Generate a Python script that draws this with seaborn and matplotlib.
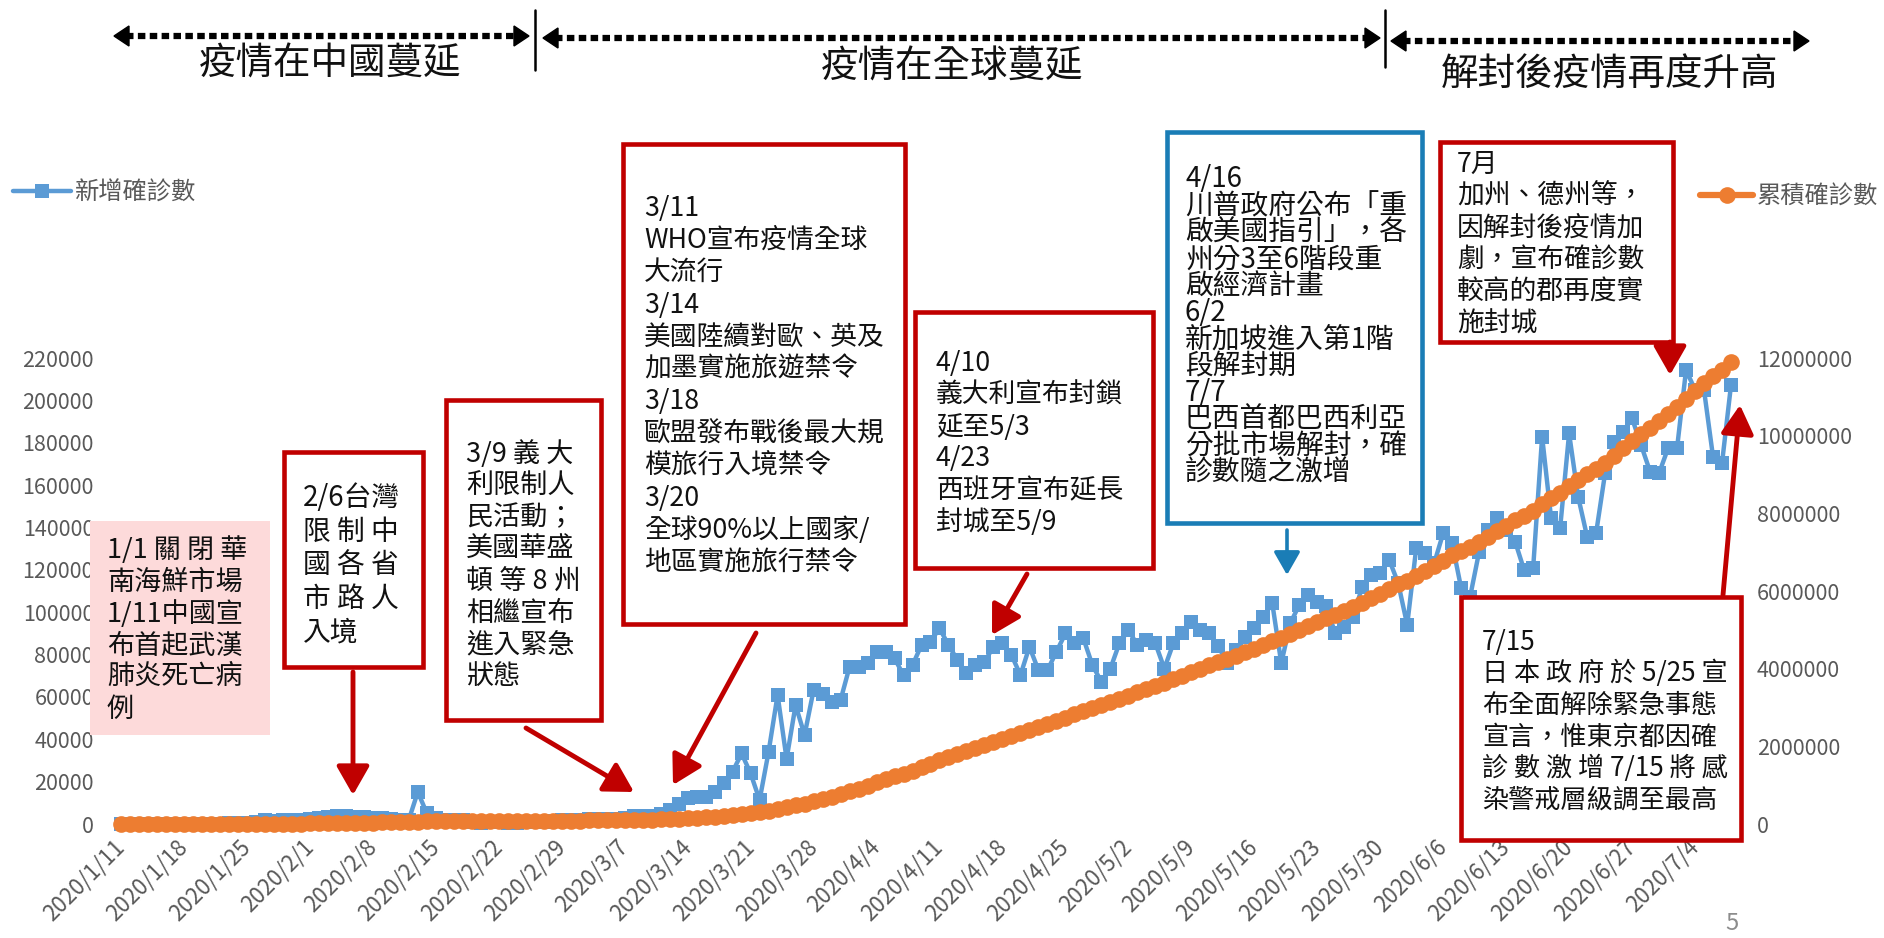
import matplotlib
matplotlib.use('Agg')
import matplotlib.pyplot as plt
import numpy as np
import pandas as pd
import seaborn as sns
from matplotlib.patches import Rectangle, Polygon, FancyArrowPatch

# Daily new confirmed cases worldwide (thousands), 2020/1/11 - 2020/7/8
new_cases_k = [
    0.0, 0.0, 0.0, 0.0, 0.0, 0.0, 0.02,
    0.06, 0.08, 0.09, 0.15, 0.13, 0.26, 0.46,
    0.69, 0.77, 1.77, 1.46, 1.74, 1.98, 2.10,
    2.59, 2.83, 3.24, 3.88, 3.69, 3.14, 3.39,
    2.65, 2.97, 2.47, 2.02, 2.00, 15.15, 5.09,
    2.64, 2.10, 2.05, 1.89, 0.80, 0.55, 1.00,
    1.05, 0.65, 0.50, 0.85, 0.93, 1.10, 1.35,
    1.80, 1.70, 1.90, 2.30, 2.30, 2.20, 2.40,
    3.00, 3.60, 3.90, 3.70, 4.60, 6.60, 9.50,
    12.1, 12.9, 12.9, 15.3, 19.2, 24.7, 33.3,
    23.9, 11.3, 34.1, 60.9, 30.7, 56.1, 42.0,
    63.2, 61.6, 57.7, 58.5, 74.2, 74.2, 75.8,
    81.3, 81.3, 78.2, 70.3, 75.0, 84.5, 86.1,
    92.4, 84.5, 77.4, 71.1, 75.0, 76.6, 83.7,
    85.3, 79.8, 70.3, 83.7, 72.6, 72.6, 81.3,
    90.0, 85.3, 87.6, 75.0, 67.1, 73.4, 85.3,
    91.6, 84.5, 86.8, 85.3, 73.4, 85.3, 90.0,
    95.5, 91.6, 90.0, 83.8, 75.9, 82.2, 88.5,
    92.4, 97.9, 104.2, 75.9, 94.8, 103.4, 108.2,
    105.0, 102.7, 90.0, 93.2, 97.9, 112.1, 117.6,
    118.4, 124.7, 113.7, 94.0, 130.2, 127.8, 123.1,
    137.3, 132.5, 111.3, 107.4, 128.6, 138.8, 144.3,
    138.8, 133.3, 119.9, 120.7, 182.9, 144.3, 139.6,
    184.4, 154.6, 135.7, 137.3, 165.6, 180.5, 185.2,
    191.5, 178.9, 166.4, 165.6, 177.4, 177.4, 214.3,
    205.0, 204.9, 173.4, 170.3, 207.2,
]

# Cumulative confirmed cases worldwide (thousands)
total_cases_k = [
    0.04, 0.04, 0.04, 0.04, 0.04, 0.04, 0.06,
    0.12, 0.20, 0.29, 0.44, 0.57, 0.83, 1.29,
    1.98, 2.75, 4.52, 5.98, 7.72, 9.70, 11.8,
    14.4, 17.2, 20.4, 24.3, 28.0, 31.1, 34.5,
    37.2, 40.2, 42.6, 44.6, 46.6, 61.8, 66.9,
    69.5, 71.6, 73.7, 75.6, 76.4, 76.9, 77.9,
    79.0, 79.6, 80.1, 81.0, 81.9, 83.0, 84.4,
    86.2, 87.9, 89.8, 92.1, 94.4, 96.6, 99.0,
    102.0, 105.6, 109.5, 113.2, 117.8, 124.4, 133.9,
    146.0, 158.9, 171.8, 187.1, 206.3, 231.0, 264.3,
    288.2, 299.5, 333.6, 394.5, 425.2, 481.3, 523.3,
    586.5, 648.1, 705.8, 764.3, 838.5, 912.7, 988.5,
    1069.8, 1151.1, 1229.3, 1299.6, 1374.6, 1459.1, 1545.2,
    1637.6, 1722.1, 1799.5, 1870.6, 1945.6, 2022.2, 2105.9,
    2191.2, 2271.0, 2341.3, 2425.0, 2497.6, 2570.2, 2651.5,
    2741.5, 2826.8, 2914.4, 2989.4, 3056.5, 3129.9, 3215.2,
    3306.8, 3391.3, 3478.1, 3563.4, 3636.8, 3722.1, 3812.1,
    3907.6, 3999.2, 4089.2, 4173.0, 4248.9, 4331.1, 4419.6,
    4512.0, 4609.9, 4714.1, 4790.0, 4884.8, 4988.2, 5096.4,
    5201.4, 5304.1, 5394.1, 5487.3, 5585.2, 5697.3, 5814.9,
    5933.3, 6058.0, 6171.7, 6265.7, 6395.9, 6523.7, 6646.8,
    6784.1, 6916.6, 7027.9, 7135.3, 7263.9, 7402.7, 7547.0,
    7685.8, 7819.1, 7939.0, 8059.7, 8242.6, 8386.9, 8526.5,
    8710.9, 8865.5, 9001.2, 9138.5, 9304.1, 9484.6, 9669.8,
    9861.3, 10040.2, 10206.6, 10372.2, 10549.6, 10727.0, 10941.3,
    11146.3, 11351.2, 11524.6, 11694.9, 11902.1,
]

start_date = '2020-01-11'
x_tick_labels = [
    '2020/1/11', '2020/1/18', '2020/1/25', '2020/2/1', '2020/2/8', '2020/2/15',
    '2020/2/22', '2020/2/29', '2020/3/7', '2020/3/14', '2020/3/21', '2020/3/28',
    '2020/4/4', '2020/4/11', '2020/4/18', '2020/4/25', '2020/5/2', '2020/5/9',
    '2020/5/16', '2020/5/23', '2020/5/30', '2020/6/6', '2020/6/13', '2020/6/20',
    '2020/6/27', '2020/7/4',
]
left_ticks = [0, 20000, 40000, 60000, 80000, 100000, 120000, 140000,
              160000, 180000, 200000, 220000]
right_ticks = [0, 2000000, 4000000, 6000000, 8000000, 10000000, 12000000]
series_names = ['新增確診數', '累積確診數']
phase_labels = ['疫情在中國蔓延', '疫情在全球蔓延', '解封後疫情再度升高']

note_china = ['1/1 關 閉 華', '南海鮮市場', '1/11中國宣', '布首起武漢', '肺炎死亡病', '例']
note_taiwan = ['2/6台灣', '限 制 中', '國 各 省', '市 路 人', '入境']
note_italy_us = ['3/9 義 大', '利限制人', '民活動；', '美國華盛', '頓 等 8 州',
                 '相繼宣布', '進入緊急', '狀態']
note_march = ['3/11', 'WHO宣布疫情全球', '大流行', '3/14', '美國陸續對歐、英及',
              '加墨實施旅遊禁令', '3/18', '歐盟發布戰後最大規', '模旅行入境禁令',
              '3/20', '全球90%以上國家/', '地區實施旅行禁令']
note_april = ['4/10', '義大利宣布封鎖', '延至5/3', '4/23', '西班牙宣布延長', '封城至5/9']
note_reopen = ['4/16', '川普政府公布「重', '啟美國指引」，各', '州分3至6階段重',
               '啟經濟計畫', '6/2', '新加坡進入第1階', '段解封期', '7/7',
               '巴西首都巴西利亞', '分批市場解封，確', '診數隨之激增']
note_july = ['7月', '加州、德州等，', '因解封後疫情加', '劇，宣布確診數',
             '較高的郡再度實', '施封城']
note_japan = ['7/15', '日 本 政 府 於 5/25 宣', '布全面解除緊急事態', '宣言，惟東京都因確',
              '診 數 激 增 7/15 將 感', '染警戒層級調至最高']

BLUE = '#5B9BD5'
ORANGE = '#ED7D31'
RED = '#C00000'
NOTE_BLUE = '#1A7DB6'
GREY = '#595959'

sns.set_theme(style='white')
plt.rcParams['font.family'] = ['Noto Sans CJK TC', 'DejaVu Sans']
plt.rcParams['axes.unicode_minus'] = False

dates = pd.date_range(start_date, periods=len(new_cases_k), freq='D')
df = pd.DataFrame({
    'date': dates,
    'new': np.array(new_cases_k) * 1000,
    'total': np.array(total_cases_k) * 1000,
})

W, H = 1884, 938
fig = plt.figure(figsize=(W / 100, H / 100), dpi=100)
fig.patch.set_facecolor('white')

ax = fig.add_axes([112 / W, 1 - 824 / H, (1740 - 112) / W, (824 - 358) / H])
ax2 = ax.twinx()

sns.lineplot(data=df, x='date', y='new', ax=ax, color=BLUE, linewidth=3.2,
             marker='s', markersize=9.5, markeredgewidth=0, clip_on=False, legend=False)
sns.lineplot(data=df, x='date', y='total', ax=ax2, color=ORANGE, linewidth=4.5,
             marker='o', markersize=12, markeredgewidth=0, clip_on=False, legend=False)

ax.set_xlim(dates[0] - pd.Timedelta(days=1), dates[0] + pd.Timedelta(days=180))
ax.set_ylim(0, 220000)
ax2.set_ylim(0, 12000000)

for a in (ax, ax2):
    for s in a.spines.values():
        s.set_visible(False)
    a.grid(False)
    a.set_xlabel('')
    a.set_ylabel('')

ax.set_xticks(dates[::7])
ax.set_xticklabels(x_tick_labels, rotation=45, ha='right', va='center',
                   rotation_mode='anchor')
ax.set_yticks(left_ticks)
ax.set_yticklabels([str(v) for v in left_ticks])
ax2.set_yticks(right_ticks)
ax2.set_yticklabels([str(v) for v in right_ticks])

ax.tick_params(axis='x', length=0, pad=14, labelsize=16, colors=GREY)
ax.tick_params(axis='y', length=0, pad=13, labelsize=15.5, colors=GREY)
ax2.tick_params(axis='y', length=0, pad=12, labelsize=15.5, colors=GREY)

# legends
fig.legend([ax.lines[0]], [series_names[0]], loc='center left',
           bbox_to_anchor=(13 / W, 1 - 193 / H), frameon=False, fontsize=17.5,
           labelcolor=GREY, handlelength=2.4, handletextpad=0.15,
           borderpad=0, borderaxespad=0)
fig.legend([ax2.lines[0]], [series_names[1]], loc='center left',
           bbox_to_anchor=(1700 / W, 1 - 197 / H), frameon=False, fontsize=17.5,
           labelcolor=GREY, handlelength=2.2, handletextpad=0.15,
           borderpad=0, borderaxespad=0)

# overlay in pixel coordinates for the slide annotations
ov = fig.add_axes([0, 0, 1, 1], zorder=10)
ov.set_xlim(0, W)
ov.set_ylim(H, 0)
ov.axis('off')


def dashed_arrow(x0, x1, y):
    ov.plot([x0 + 12, x1 - 12], [y, y], color='black', lw=4.5,
            linestyle=(0, (1.2, 0.7)), dash_capstyle='butt')
    ov.add_patch(Polygon([[x0, y], [x0 + 15, y - 10], [x0 + 15, y + 10]], color='black'))
    ov.add_patch(Polygon([[x1, y], [x1 - 15, y - 10], [x1 - 15, y + 10]], color='black'))


def note(box, lines, y0, step, tx, edge=RED, face='white', fs=19.3, lw=3.3):
    x0, y0b, x1, y1b = box
    ov.add_patch(Rectangle((x0, y0b), x1 - x0, y1b - y0b, facecolor=face,
                           edgecolor=edge, lw=lw))
    em = fs * 100 / 72
    for k, line in enumerate(lines):
        ov.text(tx, y0 + k * step + 0.37 * em, line, fontsize=fs, ha='left',
                va='baseline', color='#111111')


def arrow(p0, p1, color=RED, lw=3.5, ms=25):
    ov.add_patch(FancyArrowPatch(p0, p1, arrowstyle='-|>,head_length=0.7,head_width=0.4',
                                 mutation_scale=ms, color=color, lw=lw,
                                 shrinkA=0, shrinkB=0))


# phase header
dashed_arrow(114, 529, 36)
dashed_arrow(543, 1380, 38)
dashed_arrow(1391, 1809, 41)
ov.plot([535, 535], [10, 70], color='black', lw=1.8)
ov.plot([1385, 1385], [10, 67], color='black', lw=1.8)
ov.text(330, 64, phase_labels[0], fontsize=27, ha='center', va='center', color='#111111')
ov.text(952, 67, phase_labels[1], fontsize=27, ha='center', va='center', color='#111111')
ov.text(1610, 75, phase_labels[2], fontsize=27, ha='center', va='center', color='#111111')

# notes
note((90, 521, 270, 735), note_china, 548, 31.8, 107, edge='none', face='#FDDADA', lw=0, fs=19.5)
note((284, 452, 423, 667), note_taiwan, 496, 33.5, 303, fs=20)
note((446, 400, 601, 720), note_italy_us, 452, 31.7, 466, fs=19.5)
note((623, 144, 905, 624), note_march, 206, 32.2, 644)
note((915, 312, 1153, 568), note_april, 361, 31.8, 936)
note((1167, 132, 1422, 523), note_reopen, 177, 26.7, 1185, edge=NOTE_BLUE, fs=20)
note((1440, 142, 1673, 342), note_july, 162, 32, 1457)
note((1461, 597, 1741, 840), note_japan, 640, 31.6, 1482, fs=18.8)

arrow((353, 672), (353, 795))
arrow((526, 728), (634, 792))
arrow((756, 633), (673, 785))
arrow((1027, 574), (992, 635))
arrow((1287, 530), (1287, 575), color=NOTE_BLUE, lw=2.6, ms=20)
arrow((1670, 342), (1670, 375))
arrow((1723, 595), (1740, 405))

ov.text(1732, 923, '5', fontsize=17, ha='center', va='center', color='#8C8C8C')

fig.savefig('out.png', dpi=100, facecolor='white')
